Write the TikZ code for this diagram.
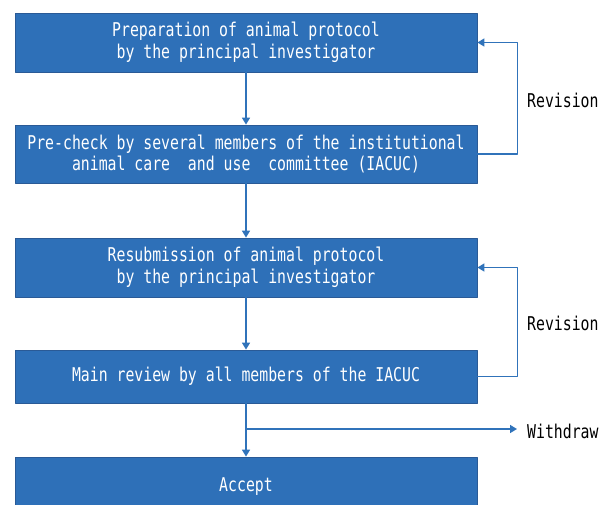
\documentclass[tikz,border=0pt]{standalone}
\usepackage{fontspec}
\newfontfamily\gothic[FakeStretch=0.78]{DejaVu Sans Mono}
\usetikzlibrary{arrows.meta,positioning}
\definecolor{boxblue}{HTML}{2E70B8}
\definecolor{boxedge}{HTML}{2A5A96}
\definecolor{flowblue}{HTML}{3073BA}
\tikzset{
  stepbox/.style={draw=boxedge,line width=0.8pt,fill=boxblue,text=white,
    minimum width=462pt,inner sep=0pt,align=center,
    font=\gothic\fontsize{19}{21.5}\selectfont},
  flow/.style={draw=flowblue,line width=1.6pt,-{Triangle[length=7pt,width=8pt]}},
  note/.style={font=\gothic\fontsize{19}{21.5}\selectfont,anchor=west,inner sep=0pt}
}
\begin{document}
\begin{tikzpicture}[x=1pt,y=-1pt,line cap=round,line join=round]
  \useasboundingbox (0,0) rectangle (607,504);
  \begin{scope}
   \clip (0,0) rectangle (607,504);
   \node[stepbox,minimum height=59pt] (prep) at (246,42.5)
     {Preparation of animal protocol\\by the principal investigator};
   \node[stepbox,minimum height=58pt] (check) at (246,154)
     {Pre-check by several members of the institutional\\animal care\ \ and use\ \ committee (IACUC)};
   \node[stepbox,minimum height=59pt] (resub) at (246,267.5)
     {Resubmission of animal protocol\\by the principal investigator};
   \node[stepbox,minimum height=53pt] (main) at (246,376.5)
     {Main review by all members of the IACUC};
   \node[stepbox,minimum height=60pt] (accept) at (246,487) {Accept};
  \end{scope}
  \node[note] (rev1) at (527,100) {Revision};
  \node[note] (rev2) at (527,323) {Revision};
  \node[note] (wd) at (527,431) {Withdraw};
  \coordinate (split) at (246,429);
  % main flow
  \draw[flow] (prep) -- (check);
  \draw[flow] (check) -- (resub);
  \draw[flow] (resub) -- (main);
  \draw[flow] (main) -- (accept);
  % loops back
  \draw[flow] (check.east) -- ++(40,0) |- (prep.east);
  \draw[flow] (main.east) -- ++(40,0) |- (resub.east);
  \draw[flow] (split) -- ([xshift=-10pt]wd.west |- split);
\end{tikzpicture}
\end{document}
